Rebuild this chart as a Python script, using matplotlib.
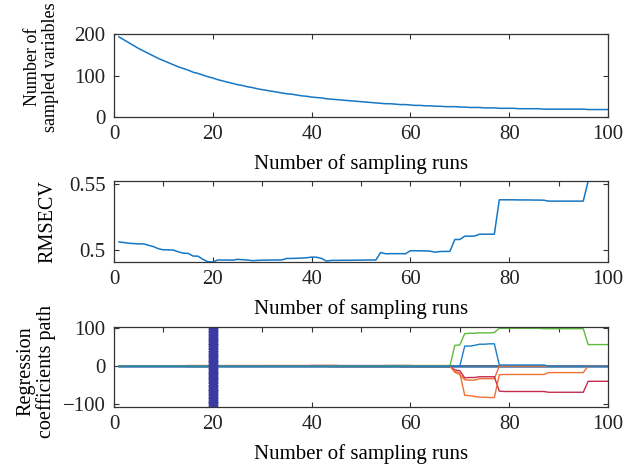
import numpy as np
import matplotlib.pyplot as plt
from matplotlib.ticker import MultipleLocator

plt.rcParams['font.family'] = ['Liberation Serif', 'DejaVu Serif']
plt.rcParams['font.size'] = 15

runs = np.arange(1, 101)

# number of variables kept after each sampling run
n_vars = [193, 186, 179, 172, 165, 159, 153, 147, 141, 136,
          131, 126, 121, 117, 113, 108, 105, 101, 97, 94,
          90, 87, 84, 81, 78, 76, 73, 71, 68, 66,
          64, 62, 60, 58, 56, 55, 53, 51, 50, 48,
          47, 46, 44, 43, 42, 41, 40, 39, 38, 37,
          36, 35, 34, 33, 32, 32, 31, 30, 30, 29,
          28, 28, 27, 27, 26, 26, 25, 25, 25, 24,
          24, 23, 23, 23, 22, 22, 22, 21, 21, 21,
          21, 20, 20, 20, 20, 20, 19, 19, 19, 19,
          19, 19, 19, 19, 19, 18, 18, 18, 18, 18]

rmsecv = [0.5060, 0.5055, 0.5050, 0.5047, 0.5045, 0.5045, 0.5034, 0.5024, 0.5008, 0.5000,
          0.5000, 0.4998, 0.4985, 0.4975, 0.4973, 0.4953, 0.4952, 0.4928, 0.4910, 0.4908,
          0.4923, 0.4923, 0.4923, 0.4922, 0.4928, 0.4925, 0.4923, 0.4918, 0.4920, 0.4922,
          0.4922, 0.4923, 0.4923, 0.4924, 0.4935, 0.4935, 0.4936, 0.4938, 0.4940, 0.4945,
          0.4944, 0.4935, 0.4915, 0.4920, 0.4920, 0.4921, 0.4921, 0.4921, 0.4922, 0.4922,
          0.4923, 0.4923, 0.4923, 0.4980, 0.4970, 0.4971, 0.4971, 0.4971, 0.4970, 0.4993,
          0.4993, 0.4992, 0.4992, 0.4990, 0.4982, 0.4987, 0.4988, 0.4988, 0.5078, 0.5078,
          0.5103, 0.5103, 0.5104, 0.5118, 0.5118, 0.5118, 0.5118, 0.5378, 0.5378, 0.5378,
          0.5378, 0.5377, 0.5377, 0.5377, 0.5376, 0.5376, 0.5375, 0.5368, 0.5368, 0.5368,
          0.5368, 0.5368, 0.5368, 0.5368, 0.5368, 0.5520, 0.5520, 0.5520, 0.5520, 0.5520]

# regression coefficient paths (coefficient stays 0 once a variable is dropped)
coef_small = {
    '#4DBEEE': [0.0] * 49 + [-2.0] * 19 + [0.0] * 32,
    '#EDB120': [0.0] * 43 + [-3.0] * 12 + [-1.0] * 13 + [0.0] * 32,
    '#7E2F8E': [0.0] * 39 + [2.0] * 21 + [1.0] * 8 + [0.0] * 32,
    '#77AC30': [0.0] * 14 + [-2.0] * 6 + [0.0] * 34 + [2.0] * 14 + [0.0] * 32,
    '#A2142F': [0.0] * 29 + [1.5] * 16 + [0.0] * 55,
    '#D95319': [0.0] * 4 + [1.0] * 10 + [2.0] * 31 + [1.0] * 12 + [-2.5] * 11 + [0.0] * 32,
}
coef_green = ([0.0] * 68 + [55, 56, 86, 87, 87, 88, 88, 88, 89]
              + [100, 100, 100, 100, 100, 100, 100, 100, 100,
                 99, 99, 99, 99, 99, 99, 99, 99, 99]
              + [57] * 5)
coef_blue = ([0.0] * 70 + [53, 53, 55, 58, 58, 59, 59]
             + [3] * 10 + [0.0] * 13)
coef_red = ([0.0] * 68 + [-10, -12, -31, -30, -30, -28, -28, -28, -28]
            + [-66] + [-67] * 9 + [-69] * 8 + [-40] * 5)
coef_orange = ([0.0] * 68 + [-14, -18, -77, -78, -80, -82, -82, -83, -83]
               + [-23] + [-22] * 9 + [-17] * 8 + [0.0] * 5)
coef_orange2 = ([0.0] * 68 + [-16, -22, -36, -37, -37, -33, -33, -33, -33]
                + [0.0] * 23)
coef_lo, coef_hi = -108, 103.4
best_run = 20

fig = plt.figure(figsize=(6.3, 4.73), dpi=100)
ax1 = fig.add_axes([0.181, 0.7526, 0.784, 0.1755])
ax2 = fig.add_axes([0.181, 0.4461, 0.784, 0.1712])
ax3 = fig.add_axes([0.181, 0.1395, 0.784, 0.1691])

line_blue = '#1677c4'

ax1.plot(runs, n_vars, color=line_blue, lw=1.1)
ax1.set_ylim(0, 200)
ax1.set_yticks([0, 100, 200])
ax1.set_ylabel('Number of\nsampled variables', fontsize=13, linespacing=1.1, va='center')
ax1.yaxis.set_label_coords(-0.147, 0.6)

ax2.plot(runs, rmsecv, color=line_blue, lw=1.1)
ax2.set_ylim(min(rmsecv), max(rmsecv))
ax2.set_yticks([0.5, 0.55])
ax2.set_yticklabels(['0.5', '0.55'])
ax2.set_ylabel('RMSECV', fontsize=14.5, va='center')
ax2.yaxis.set_label_coords(-0.134, 0.5)

for col, vals in coef_small.items():
    ax3.plot(runs, vals, color=col, lw=0.9, alpha=0.7)
ax3.plot(runs, [0.0] * 100, color='#3f74a8', lw=1.8)
ax3.plot(runs, coef_orange2, color='#ee6e35', lw=1.0)
ax3.plot(runs, coef_red, color='#c42c4c', lw=1.0)
ax3.plot(runs, coef_orange, color='#f07133', lw=1.0)
ax3.plot(runs, coef_green, color='#5dbb3a', lw=1.0)
ax3.plot(runs, coef_blue, color='#1a7fc8', lw=1.0)
ax3.plot([best_run] * 48, np.linspace(coef_lo, coef_hi, 48), ls='none',
         marker=(6, 2, 0), ms=7.5, mew=1.1, color='#3a3aa2')
ax3.set_ylim(coef_lo, coef_hi)
ax3.set_yticks([-100, 0, 100])
ax3.set_ylabel('Regression\ncoefficients path', fontsize=14.5, linespacing=1.05, va='center')
ax3.yaxis.set_label_coords(-0.157, 0.45)

for i, ax in enumerate([ax1, ax2, ax3]):
    ax.set_xlim(0, 100)
    ax.set_xticks(range(0, 101, 20))
    if i > 0:
        ax.xaxis.set_minor_locator(MultipleLocator(10))
        ax.tick_params(which='minor', direction='in', bottom=False, top=True,
                       length=3.5, width=0.8, color='#333333')
    ax.tick_params(direction='in', top=True, right=True, length=3.5, width=0.8,
                   color='#333333', labelcolor='#222222', pad=6)
    ax.set_xlabel('Number of sampling runs', labelpad=7)
    for sp in ax.spines.values():
        sp.set_color('#333333')
        sp.set_linewidth(0.9)

fig.savefig('out.png', dpi=100)
